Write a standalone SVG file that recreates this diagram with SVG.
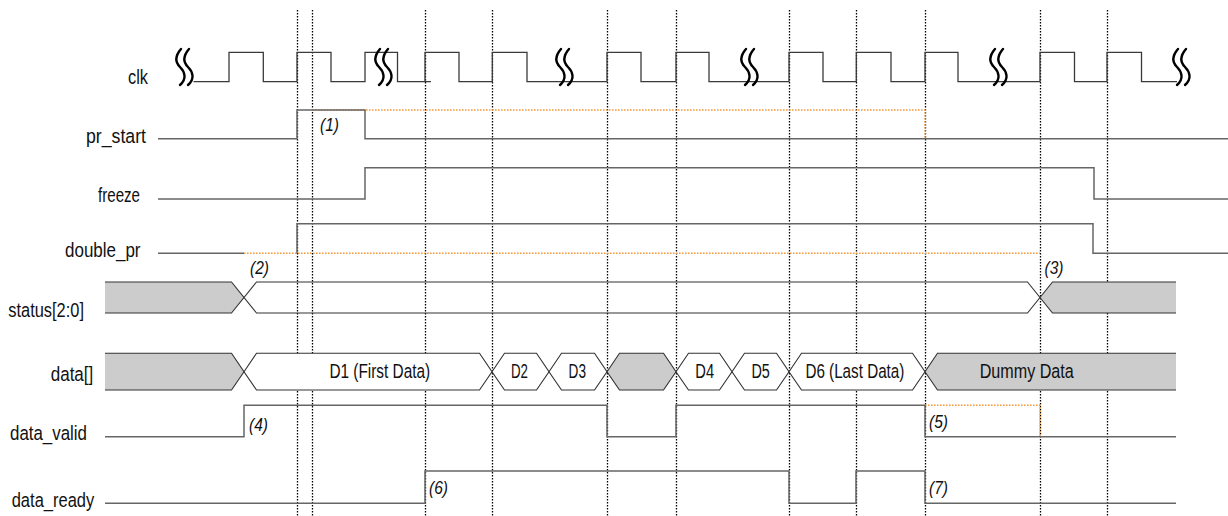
<svg xmlns="http://www.w3.org/2000/svg" width="1228" height="516" viewBox="0 0 1228 516">
<style>
.lbl{font-family:"Liberation Sans",Arial,sans-serif;font-size:20.5px;fill:#111}
.bl{font-family:"Liberation Sans",Arial,sans-serif;font-size:20.5px;fill:#111}
.ann{font-family:"Liberation Sans",Arial,sans-serif;font-size:19px;font-style:italic;fill:#111}
.clk{fill:none;stroke:#3a3a3a;stroke-width:1.3}
.sig{fill:none;stroke:#666;stroke-width:1.5}
.bus{fill:none;stroke:#333;stroke-width:1.1}
.gray{fill:#cccccc;stroke:none}
.white{fill:#fff;stroke:#333;stroke-width:1.1}
.grayb{fill:#cccccc;stroke:#333;stroke-width:1.1}
.vdot{stroke:#000;stroke-width:1.3;stroke-dasharray:1.6 1.4}
.odot{fill:none;stroke:#f29b3c;stroke-width:1.4;stroke-dasharray:1.6 1.4}
.sq{fill:none;stroke:#000;stroke-width:2.4;stroke-linecap:round}
</style>
<defs>
<g id="brk">
<path class="sq" d="M6,49 C0,56 0,62 5,67 S 12,79 5,85"/>
<path class="sq" d="M14,49 C8,56 8,62 13,67 S 20,79 13,85"/>
</g>
</defs>

<g id="guides">
<line class="vdot" x1="297.5" y1="10" x2="297.5" y2="516"/>
<line class="vdot" x1="312.5" y1="10" x2="312.5" y2="516"/>
<line class="vdot" x1="425.5" y1="10" x2="425.5" y2="516"/>
<line class="vdot" x1="492.5" y1="10" x2="492.5" y2="516"/>
<line class="vdot" x1="607.5" y1="10" x2="607.5" y2="516"/>
<line class="vdot" x1="676.5" y1="10" x2="676.5" y2="516"/>
<line class="vdot" x1="789.5" y1="10" x2="789.5" y2="516"/>
<line class="vdot" x1="856.5" y1="10" x2="856.5" y2="516"/>
<line class="vdot" x1="925.5" y1="10" x2="925.5" y2="516"/>
<line class="vdot" x1="1040.5" y1="10" x2="1040.5" y2="516"/>
<line class="vdot" x1="1107.5" y1="10" x2="1107.5" y2="516"/>
</g>

<g id="clk">
<text class="lbl" x="128" y="84" textLength="20" lengthAdjust="spacingAndGlyphs">clk</text>
<path class="clk" d="M193.5,81.7 H229 V52.3 H263.3 V81.7 H297 V52.3 H331 V81.7 H365 V52.3 H397.5 V81.7 H431"/>
<path class="clk" d="M425,81.7 V52.3 H459 V81.7 H492.3 V52.3 H527 V81.7 H607 V52.3 H641 V81.7 H676 V52.3 H709 V81.7 H789 V52.3 H823 V81.7 H856.3 V52.3 H891 V81.7 H925 V52.3 H958 V81.7 H1040 V52.3 H1074.5 V81.7 H1107 V52.3 H1141.5 V81.7 H1177"/>
<use href="#brk" x="175" y="0"/>
<use href="#brk" x="374" y="0"/>
<use href="#brk" x="555" y="0"/>
<use href="#brk" x="740" y="0"/>
<use href="#brk" x="989" y="0"/>
<use href="#brk" x="1172" y="0"/>
</g>

<g id="pr_start">
<text class="lbl" x="86" y="143" textLength="60" lengthAdjust="spacingAndGlyphs">pr_start</text>
<path class="odot" d="M312,110 H925 V138.7"/>
<path class="sig" d="M158,138.7 H297 V110 H365 V138.7 H1228"/>
<text class="ann" x="320" y="131" textLength="19" lengthAdjust="spacingAndGlyphs">(1)</text>
</g>

<g id="freeze">
<text class="lbl" x="98" y="202" textLength="42" lengthAdjust="spacingAndGlyphs">freeze</text>
<path class="sig" d="M158,199 H365 V167.7 H1094 V199 H1228"/>
</g>

<g id="double_pr">
<text class="lbl" x="65" y="257" textLength="75.5" lengthAdjust="spacingAndGlyphs">double_pr</text>
<path class="sig" d="M158,253.3 H244"/>
<path class="odot" d="M244,253.3 H1040"/>
<path class="sig" d="M297,253.3 V223.7 H1093 V253.3 H1228"/>
</g>

<g id="status">
<text class="lbl" x="8.3" y="317" textLength="75.7" lengthAdjust="spacingAndGlyphs">status[2:0]</text>
<polygon class="gray" points="105,282 231.5,282 244,297.5 231.5,313 105,313"/>
<polygon class="gray" points="1040,297.5 1052.5,282 1176,282 1176,313 1052.5,313"/>
<path class="bus" d="M105,282 H231.5 L256.5,313 H1027.5 L1052.5,282 H1176"/>
<path class="bus" d="M105,313 H231.5 L256.5,282 H1027.5 L1052.5,313 H1176"/>
<text class="ann" x="250" y="274" textLength="19" lengthAdjust="spacingAndGlyphs">(2)</text>
<text class="ann" x="1044.5" y="274" textLength="19" lengthAdjust="spacingAndGlyphs">(3)</text>
</g>

<g id="data">
<text class="lbl" x="50.7" y="380.7" textLength="42.6" lengthAdjust="spacingAndGlyphs">data[]</text>
<polygon class="gray" points="105,353.3 231.5,353.3 244,371.7 231.5,390 105,390"/>
<path class="bus" d="M105,353.3 H231.5 L244,371.7 L231.5,390 H105"/>
<polygon class="white" points="244,371.7 256.5,353.3 479.5,353.3 492,371.7 479.5,390 256.5,390"/>
<polygon class="white" points="492,371.7 504.5,353.3 536.5,353.3 549,371.7 536.5,390 504.5,390"/>
<polygon class="white" points="549,371.7 561.5,353.3 594.5,353.3 607,371.7 594.5,390 561.5,390"/>
<polygon class="grayb" points="607,371.7 619.5,353.3 663.5,353.3 676,371.7 663.5,390 619.5,390"/>
<polygon class="white" points="676,371.7 688.5,353.3 719.5,353.3 732,371.7 719.5,390 688.5,390"/>
<polygon class="white" points="732,371.7 744.5,353.3 776.5,353.3 789,371.7 776.5,390 744.5,390"/>
<polygon class="white" points="789,371.7 801.5,353.3 912.5,353.3 925,371.7 912.5,390 801.5,390"/>
<polygon class="gray" points="925,371.7 937.5,353.3 1176,353.3 1176,390 937.5,390"/>
<path class="bus" d="M1176,353.3 H937.5 L925,371.7 L937.5,390 H1176"/>
<text class="bl" x="329.4" y="378" textLength="100.8" lengthAdjust="spacingAndGlyphs">D1 (First Data)</text>
<text class="bl" x="511" y="378" textLength="17" lengthAdjust="spacingAndGlyphs">D2</text>
<text class="bl" x="568.6" y="378" textLength="17.4" lengthAdjust="spacingAndGlyphs">D3</text>
<text class="bl" x="695.3" y="378" textLength="18.8" lengthAdjust="spacingAndGlyphs">D4</text>
<text class="bl" x="751.4" y="378" textLength="18.4" lengthAdjust="spacingAndGlyphs">D5</text>
<text class="bl" x="805.4" y="378" textLength="99" lengthAdjust="spacingAndGlyphs">D6 (Last Data)</text>
<text class="bl" x="979.7" y="378" textLength="94.1" lengthAdjust="spacingAndGlyphs">Dummy Data</text>
</g>

<g id="data_valid">
<text class="lbl" x="10" y="440" textLength="77" lengthAdjust="spacingAndGlyphs">data_valid</text>
<path class="odot" d="M925,405.3 H1040 V436.7"/>
<path class="sig" d="M105,436.7 H244 V405.3 H607 V436.7 H676 V405.3 H925 V436.7 H1176"/>
<text class="ann" x="249" y="431" textLength="19" lengthAdjust="spacingAndGlyphs">(4)</text>
<text class="ann" x="929" y="428" textLength="19" lengthAdjust="spacingAndGlyphs">(5)</text>
</g>

<g id="data_ready">
<text class="lbl" x="11.7" y="506.5" textLength="82.6" lengthAdjust="spacingAndGlyphs">data_ready</text>
<path class="sig" d="M105,503.3 H425 V471 H789 V503.3 H856 V471 H925 V503.3 H1176"/>
<text class="ann" x="429" y="494" textLength="19" lengthAdjust="spacingAndGlyphs">(6)</text>
<text class="ann" x="929" y="494" textLength="19" lengthAdjust="spacingAndGlyphs">(7)</text>
</g>
</svg>
